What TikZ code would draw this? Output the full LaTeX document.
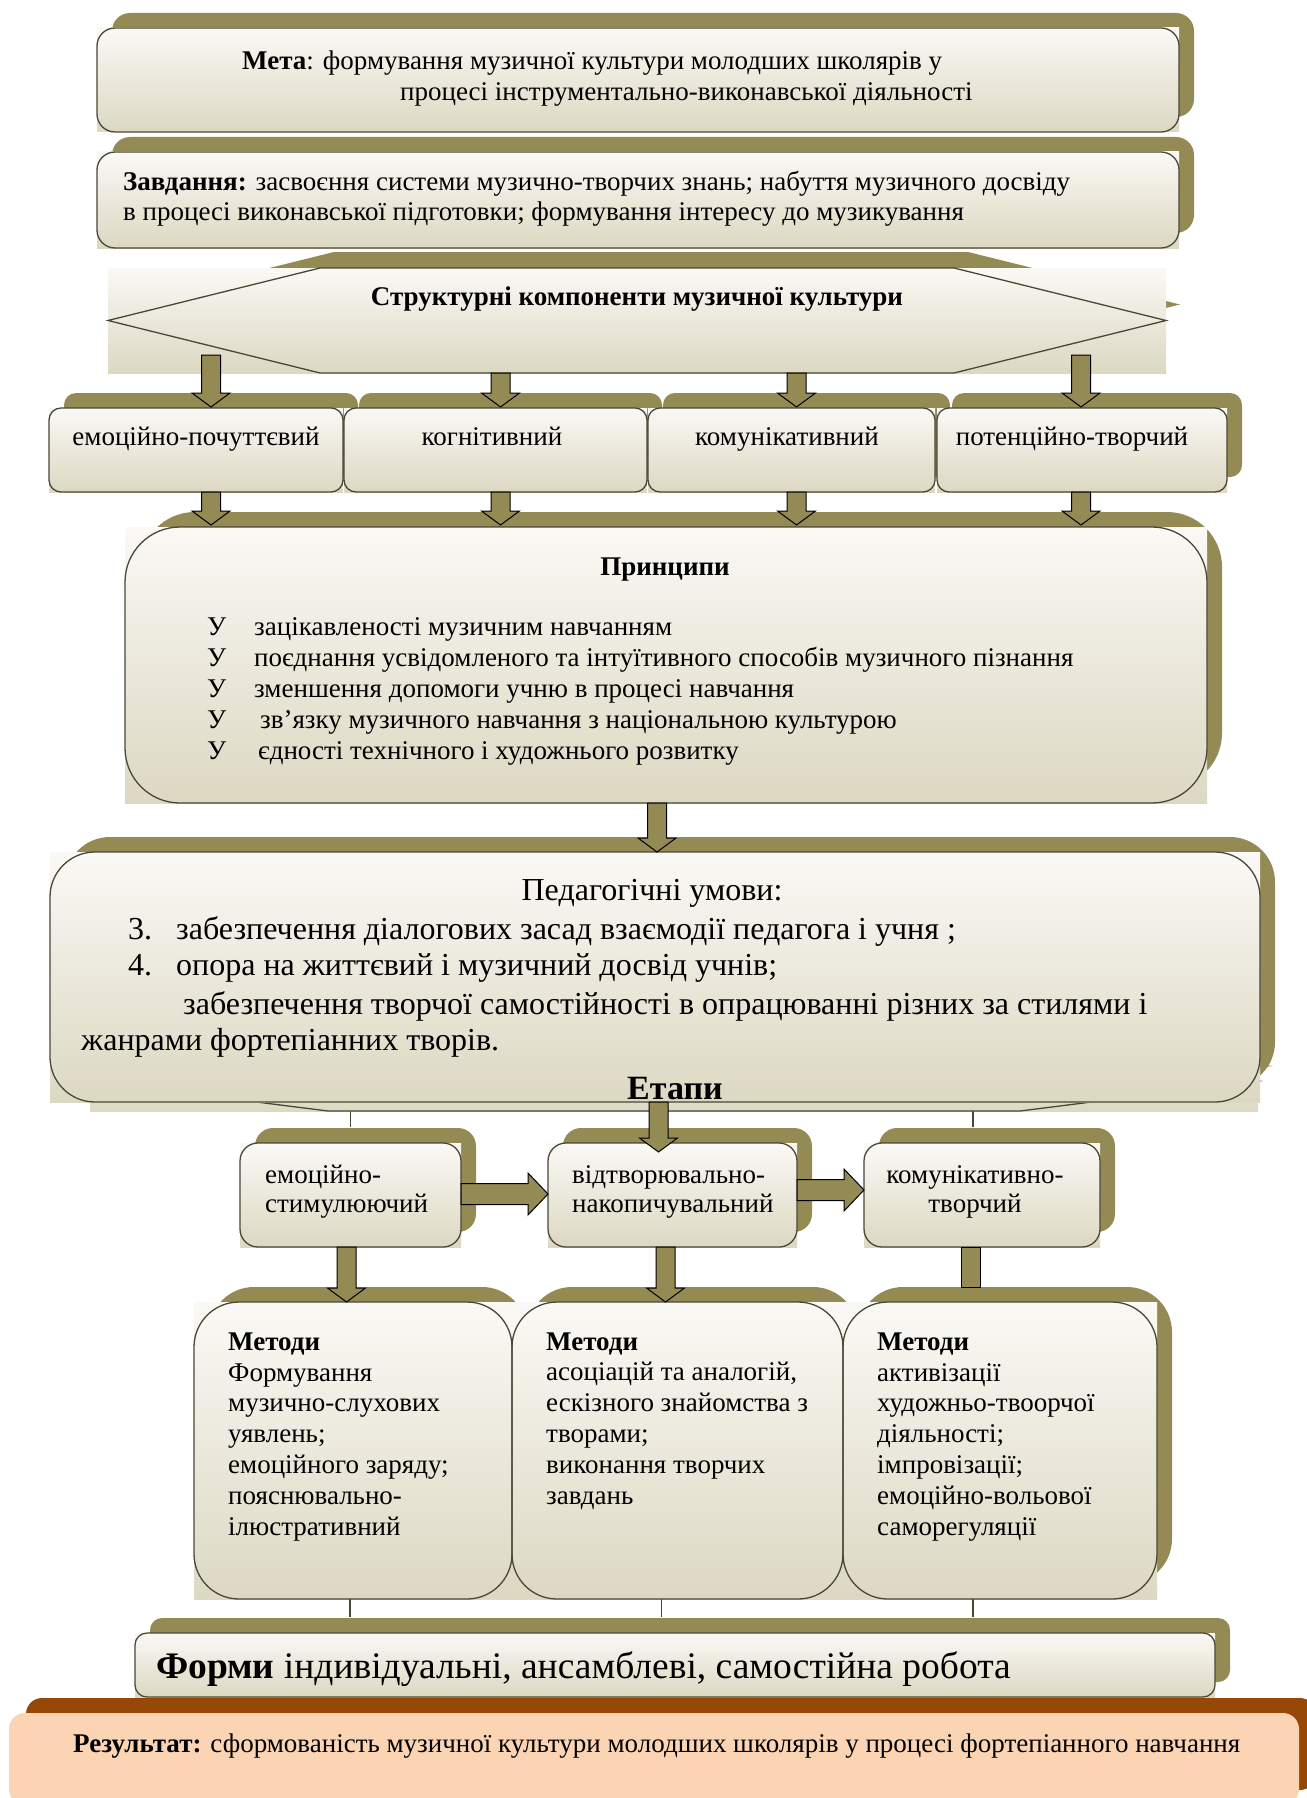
\documentclass[tikz,border=0pt]{standalone}
\usepackage{fontspec}
\setmainfont{Liberation Serif}
\usetikzlibrary{calc,fit,backgrounds,positioning}

\definecolor{olivedark}{HTML}{948A54}
\definecolor{tanlight}{HTML}{FAF9F5}
\definecolor{tandark}{HTML}{DCD8C2}
\definecolor{edgegray}{HTML}{4A4737}
\definecolor{peach}{HTML}{FBD4B4}
\definecolor{rust}{HTML}{984806}

\def\shaftw{9.5pt}
\def\headw{19pt}
\def\headl{14pt}

\begin{document}
\begin{tikzpicture}[x=1pt, y=-1pt,
    box/.style={draw=edgegray, line width=1.3pt, inner sep=0pt, outer sep=0pt, rounded corners=#1},
    box/.default=18pt,
    region/.style={inner sep=0pt, outer sep=0pt},
    txt/.style={anchor=base west, inner sep=0pt, align=left, font=\fontsize{27}{31}\selectfont},
    ctxt/.style={txt, anchor=base, align=center},
    link/.style={draw=edgegray, line width=1.2pt},
    hexline/.style={draw=edgegray, line width=1.3pt},
    blockarrow/.style={draw=black, fill=olivedark, line width=1pt,
      to path={let \p1=(\tikztostart), \p2=(\tikztotarget),
        \n1={atan2(\y2-\y1,\x2-\x1)}, \n2={veclen(\x2-\x1,\y2-\y1)} in
        ([shift={(\p1)}, rotate=\n1]0pt,\shaftw)
        -- ([shift={(\p1)}, rotate=\n1]{\n2*1pt-\headl},\shaftw)
        -- ([shift={(\p1)}, rotate=\n1]{\n2*1pt-\headl},\headw)
        -- ([shift={(\p1)}, rotate=\n1]{\n2*1pt},0pt)
        -- ([shift={(\p1)}, rotate=\n1]{\n2*1pt-\headl},-\headw)
        -- ([shift={(\p1)}, rotate=\n1]{\n2*1pt-\headl},-\shaftw)
        -- ([shift={(\p1)}, rotate=\n1]0pt,-\shaftw) -- cycle}},
    blockbar/.style={draw=black, fill=olivedark, line width=1pt,
      to path={let \p1=(\tikztostart), \p2=(\tikztotarget),
        \n1={atan2(\y2-\y1,\x2-\x1)}, \n2={veclen(\x2-\x1,\y2-\y1)} in
        ([shift={(\p1)}, rotate=\n1]0pt,\shaftw)
        -- ([shift={(\p1)}, rotate=\n1]{\n2*1pt},\shaftw)
        -- ([shift={(\p1)}, rotate=\n1]{\n2*1pt},-\shaftw)
        -- ([shift={(\p1)}, rotate=\n1]0pt,-\shaftw) -- cycle}},
    wide head/.style={/utils/exec={\def\headl{20pt}\def\headw{21pt}\def\shaftw{10.5pt}}}
]
\useasboundingbox (0,0) rectangle (1306,1798);

% Top boxes
\node[box, fit={(97,28) (1179,132)}] (meta) {};
\node[box, fit={(97,152) (1179,248)}] (zavd) {};

% Structural components
\node[region, fit={(108,268) (1166,373)}] (struct) {};
\node[box=12pt, fit={(49,408) (343,492)}] (c1) {};
\node[box=12pt, fit={(344,408) (647,492)}] (c2) {};
\node[box=12pt, fit={(648,408) (935,492)}] (c3) {};
\node[box=12pt, fit={(937,408) (1227,492)}] (c4) {};

% Principles and conditions
\node[box=55pt, fit={(125,527) (1207,803)}] (princ) {};
\node[region, fit={(90,1051) (1258,1111)}] (etapy) {};
\node[box=45pt, fit={(50,852) (1260,1102)}] (umovy) {};

% Stages
\node[box, fit={(240,1143) (461,1247)}] (e1) {};
\node[box, fit={(548,1143) (797,1247)}] (e2) {};
\node[box, fit={(864,1143) (1100,1247)}] (e3) {};

% Methods
\node[box=45pt, fit={(194,1302) (512,1599)}] (m1) {};
\node[box=45pt, fit={(512,1302) (843,1599)}] (m2) {};
\node[box=45pt, fit={(843,1302) (1157,1599)}] (m3) {};

% Forms and result
\node[box=12pt, fit={(135,1633) (1215,1697)}] (forms) {};
\node[region, fit={(9,1713) (1299,1805)}, fill=peach, rounded corners=16pt] (result) {};

\begin{scope}[on background layer]
  % stages band, mostly hidden behind the conditions box
  \fill[olivedark] ($(etapy.west)+(15,-15)$) -- ($(etapy.north west)+(253,-15)$) -- ($(etapy.north east)+(-223,-15)$)
    -- ($(etapy.east)+(15,-15)$) -- ($(etapy.south east)+(-223,-15)$) -- ($(etapy.south west)+(253,-15)$) -- cycle;
  \shade[top color=tanlight, bottom color=tandark] (etapy.north west) rectangle (etapy.south east);
  \draw[hexline] (etapy.west) -- ($(etapy.north west)+(238,0)$) -- ($(etapy.north east)+(-238,0)$)
    -- (etapy.east) -- ($(etapy.south east)+(-238,0)$) -- ($(etapy.south west)+(238,0)$) -- cycle;
  % olive shadows
  \foreach \n/\r in {meta/18,zavd/18,c1/12,c2/12,c3/12,c4/12,princ/55,umovy/45,e1/18,e2/18,e3/18,m1/45,m2/45,m3/45,forms/12}
    \fill[olivedark, rounded corners=\r pt] ($(\n.south west)+(15,-15)$) rectangle ($(\n.north east)+(15,-15)$);
  \fill[olivedark] ($(struct.west)+(14,-16)$) -- ($(struct.north west)+(226,-16)$) -- ($(struct.north east)+(-198,-16)$)
    -- ($(struct.east)+(14,-16)$) -- ($(struct.south east)+(-198,-16)$) -- ($(struct.south west)+(226,-16)$) -- cycle;
  \fill[rust, rounded corners=16pt] ($(result.south west)+(17,-15)$) rectangle ($(result.north east)+(17,-15)$);
  % gradient fills
  \foreach \n in {meta,zavd,struct,c1,c2,c3,c4,princ,umovy,e1,e2,e3,m1,m2,m3,forms}
    \shade[top color=tanlight, bottom color=tandark] (\n.south west) rectangle (\n.north east);
\end{scope}

\draw[hexline] (struct.west) -- ($(struct.north west)+(212,0)$) -- ($(struct.north east)+(-212,0)$)
  -- (struct.east) -- ($(struct.south east)+(-212,0)$) -- ($(struct.south west)+(212,0)$) -- cycle;

% Texts (multi-line nodes sit on the baseline of their last line)
\node[txt] (metatxt) at (242,101) {\textbf{Мета}: формування музичної культури молодших школярів у\\\hspace*{158pt}процесі інструментально-виконавської діяльності};
\node[txt] (zavdtxt) at (123,221) {\textbf{Завдання:} засвоєння системи музично-творчих знань; набуття музичного досвіду\\в процесі виконавської підготовки; формування інтересу до музикування};
\node[ctxt] (structtxt) at (637,305) {\textbf{Структурні компоненти музичної культури}};
\node[ctxt] (c1txt) at (196,445) {емоційно-почуттєвий};
\node[ctxt] (c2txt) at (492,445) {когнітивний};
\node[ctxt] (c3txt) at (787,445) {комунікативний};
\node[ctxt] (c4txt) at (1072,445) {потенційно-творчий};
\node[ctxt] (princtitle) at (665,575) {\textbf{Принципи}};
\node[txt] (princtxt) at (207,759) {\makebox[47pt][l]{У}зацікавленості музичним навчанням\\
  \makebox[47pt][l]{У}поєднання усвідомленого та інтуїтивного способів музичного пізнання\\
  \makebox[47pt][l]{У}зменшення допомоги учню в процесі навчання\\
  \makebox[53pt][l]{У}зв’язку музичного навчання з національною культурою\\
  \makebox[51pt][l]{У}єдності технічного і художнього розвитку};
\node[ctxt, font=\fontsize{32}{32}\selectfont] (umovytitle) at (652,900) {Педагогічні умови:};
\node[txt, font=\fontsize{32}{32}\selectfont] (umovytxt) at (81,1050) {\hspace*{47pt}\makebox[48pt][l]{3.}забезпечення діалогових засад взаємодії педагога і учня ;\\[4pt]
  \hspace*{47pt}\makebox[48pt][l]{4.}опора на життєвий і музичний досвід учнів;\\[7pt]
  \hspace*{102pt}забезпечення творчої самостійності в опрацюванні різних за стилями і\\[4pt]
  жанрами фортепіанних творів.};
\node[ctxt, font=\fontsize{34}{40}\selectfont\bfseries] (etapytxt) at (675,1099) {Етапи};
\node[txt, font=\fontsize{27}{29}\selectfont] (e1txt) at (265,1212) {емоційно-\\стимулюючий};
\node[txt, font=\fontsize{27}{29}\selectfont] (e2txt) at (572,1212) {відтворювально-\\накопичувальний};
\node[ctxt, font=\fontsize{27}{29}\selectfont] (e3txt) at (975,1212) {комунікативно-\\творчий};
\node[txt, font=\fontsize{27}{30.8}\selectfont] (m1txt) at (228,1535) {\textbf{Методи}\\Формування\\музично-слухових\\уявлень;\\емоційного заряду;\\пояснювально-\\ілюстративний};
\node[txt, font=\fontsize{27}{30.8}\selectfont] (m2txt) at (546,1504) {\textbf{Методи}\\асоціацій та аналогій,\\ескізного знайомства з\\творами;\\виконання творчих\\завдань};
\node[txt, font=\fontsize{27}{30.8}\selectfont] (m3txt) at (877,1535) {\textbf{Методи}\\активізації\\художньо-твоорчої\\діяльності;\\імпровізації;\\емоційно-вольової\\саморегуляції};
\node[txt, font=\fontsize{37.5}{40}\selectfont] (formstxt) at (156,1678) {\textbf{Форми} індивідуальні, ансамблеві, самостійна робота};
\node[txt] (resulttxt) at (73,1752) {\textbf{Результат:} сформованість музичної культури молодших школярів у процесі фортепіанного навчання};

% Arrows: components
\foreach \c/\dx/\dy in {c1/15/18, c2/5/0, c3/5/0, c4/-1/18} {
  \draw[blockarrow] ($(struct.south -| \c.north)+(\dx,-\dy)$) to ($(\c.north)+(\dx,-1)$);
  \draw[blockarrow] ($(\c.south)+(\dx,0)$) to ($(princ.north -| \c.south)+(\dx,-2)$);
}
\draw[blockarrow] ($(princ.south)+(-9,0)$) to ($(umovy.north)+(2,0)$);
\draw[blockarrow] ($(umovy.south -| e2.north)+(-14,0)$) to ($(e2.north)+(-14,9)$);

% Stage band links
\draw[link] (etapy.south -| e1.north) -- ($(e1.north)+(0,-16)$);
\draw[link] ($(etapy.south -| e3.north)+(-9,0)$) -- ($(e3.north)+(-9,-16)$);

% Stage arrows
\draw[blockarrow, wide head] ($(e1.east)+(0,-1)$) to ($(e2.west)+(0,-1)$);
\draw[blockarrow, wide head] ($(e2.east)+(0,-5)$) to ($(e3.west)+(0,-5)$);
\draw[blockarrow] ($(e1.south)+(-4,0)$) to ($(m1.north -| e1.south)+(-4,0)$);
\draw[blockarrow] ($(e2.south)+(-7,0)$) to ($(m2.north -| e2.south)+(-7,0)$);
\draw[blockbar] ($(e3.south)+(-11,0)$) to ($(m3.north -| e3.south)+(-11,-15)$);

% Methods to forms
\draw[link] ($(m1.south)+(-3,0)$) -- ($(forms.north -| m1.south)+(-3,-16)$);
\draw[link] ($(m2.south)+(-16,0)$) -- ($(forms.north -| m2.south)+(-16,-16)$);
\draw[link] ($(m3.south)+(-27,0)$) -- ($(forms.north -| m3.south)+(-27,-16)$);

\end{tikzpicture}
\end{document}
